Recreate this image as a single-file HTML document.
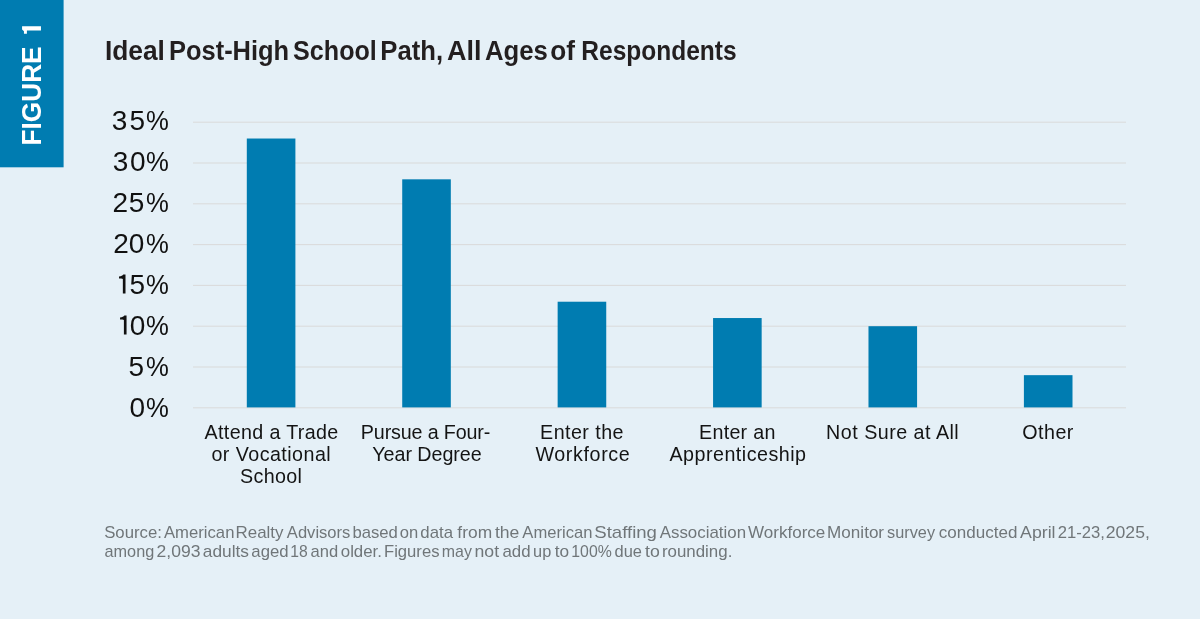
<!DOCTYPE html>
<html><head><meta charset="utf-8"><style>
html,body{margin:0;padding:0;background:#E5F0F7;}
body{width:1200px;height:619px;overflow:hidden;position:relative;font-family:"Liberation Sans",sans-serif;}
svg{position:absolute;left:0;top:0;will-change:transform;}
text{font-family:"Liberation Sans",sans-serif;}
.yl{font-size:28px;fill:#111;}
.xl{font-size:19.7px;fill:#141414;}
.t{font-size:27.5px;font-weight:700;fill:#231F20;}
.src{font-size:15.7px;fill:#707679;}
.fig{font-size:27.5px;font-weight:700;fill:#fff;}
</style></head><body>
<svg width="1200" height="619" viewBox="0 0 1200 619">
<rect x="0" y="0" width="1200" height="619" fill="#E5F0F7"/>
<rect x="0" y="0" width="63.6" height="167.3" fill="#007CB1"/>
<text class="fig" transform="translate(41.1,145.5) rotate(-90)" x="0" y="0" textLength="99.1" lengthAdjust="spacingAndGlyphs">FIGURE</text>
<path d="M22.07,26.36 H40.97 V30.43 H26.9 V33.77 H23.96 V31.2 L22.07,29.6 Z" fill="#fff"/>
<rect x="193" y="407.30" width="933" height="1" fill="#DADADA"/>
<rect x="193" y="366.50" width="933" height="1" fill="#DADADA"/>
<rect x="193" y="325.70" width="933" height="1" fill="#DADADA"/>
<rect x="193" y="284.90" width="933" height="1" fill="#DADADA"/>
<rect x="193" y="244.10" width="933" height="1" fill="#DADADA"/>
<rect x="193" y="203.30" width="933" height="1" fill="#DADADA"/>
<rect x="193" y="162.50" width="933" height="1" fill="#DADADA"/>
<rect x="193" y="121.70" width="933" height="1" fill="#DADADA"/>
<rect x="246.80" y="138.52" width="48.6" height="268.88" fill="#007CB1"/>
<rect x="402.22" y="179.32" width="48.6" height="228.08" fill="#007CB1"/>
<rect x="557.64" y="301.72" width="48.6" height="105.68" fill="#007CB1"/>
<rect x="713.06" y="318.04" width="48.6" height="89.36" fill="#007CB1"/>
<rect x="868.48" y="326.20" width="48.6" height="81.20" fill="#007CB1"/>
<rect x="1023.90" y="375.16" width="48.6" height="32.24" fill="#007CB1"/>
<text x="129.61" y="416.60" class="yl">0</text><text transform="translate(146.08,416.60) scale(0.917,1)" class="yl">%</text>
<text x="128.58" y="375.60" class="yl">5</text><text transform="translate(146.08,375.60) scale(0.917,1)" class="yl">%</text>
<path d="M126.55,334.60 V315.60 H124.35 C123.65,316.60 122.35,317.40 120.05,317.50 V319.50 C121.75,319.50 123.05,319.60 123.90,320.10 V334.60 Z" fill="#111"/>
<text x="129.66" y="334.60" class="yl">0</text><text transform="translate(146.08,334.60) scale(0.917,1)" class="yl">%</text>
<path d="M125.50,293.60 V274.60 H123.30 C122.60,275.60 121.30,276.40 119.00,276.50 V278.50 C120.70,278.50 122.00,278.60 122.85,279.10 V293.60 Z" fill="#111"/>
<text x="129.58" y="293.60" class="yl">5</text><text transform="translate(146.08,293.60) scale(0.917,1)" class="yl">%</text>
<text x="113.34" y="252.60" class="yl">2</text><text x="128.71" y="252.60" class="yl">0</text><text transform="translate(146.08,252.60) scale(0.917,1)" class="yl">%</text>
<text x="112.59" y="211.60" class="yl">2</text><text x="128.68" y="211.60" class="yl">5</text><text transform="translate(146.08,211.60) scale(0.917,1)" class="yl">%</text>
<text x="112.63" y="170.60" class="yl">3</text><text x="129.91" y="170.60" class="yl">0</text><text transform="translate(146.08,170.60) scale(0.917,1)" class="yl">%</text>
<text x="111.73" y="129.60" class="yl">3</text><text x="129.58" y="129.60" class="yl">5</text><text transform="translate(146.08,129.60) scale(0.917,1)" class="yl">%</text>
<text x="204.55" y="438.90" class="xl" textLength="133.69" lengthAdjust="spacing">Attend a Trade</text>
<text x="211.43" y="460.80" class="xl" textLength="119.27" lengthAdjust="spacing">or Vocational</text>
<text x="240.10" y="483.30" class="xl" textLength="61.84" lengthAdjust="spacing">School</text>
<text x="360.86" y="438.90" class="xl" textLength="129.45" lengthAdjust="spacing">Pursue a Four-</text>
<text x="372.35" y="460.80" class="xl" textLength="109.28" lengthAdjust="spacing">Year Degree</text>
<text x="540.07" y="438.90" class="xl" textLength="83.46" lengthAdjust="spacing">Enter the</text>
<text x="535.42" y="460.70" class="xl" textLength="94.36" lengthAdjust="spacing">Workforce</text>
<text x="699.04" y="438.90" class="xl" textLength="76.31" lengthAdjust="spacing">Enter an</text>
<text x="669.47" y="460.80" class="xl" textLength="136.46" lengthAdjust="spacing">Apprenticeship</text>
<text x="826.10" y="438.70" class="xl" textLength="132.62" lengthAdjust="spacing">Not Sure at All</text>
<text x="1022.16" y="438.90" class="xl" textLength="51.25" lengthAdjust="spacing">Other</text>
<text x="104.90" y="59.80" class="t" textLength="59.95" lengthAdjust="spacingAndGlyphs">Ideal</text>
<text x="168.99" y="59.80" class="t" textLength="120.19" lengthAdjust="spacingAndGlyphs">Post-High</text>
<text x="293.11" y="59.80" class="t" textLength="83.70" lengthAdjust="spacingAndGlyphs">School</text>
<text x="380.32" y="59.80" class="t" textLength="62.73" lengthAdjust="spacingAndGlyphs">Path,</text>
<text x="447.07" y="59.80" class="t" textLength="34.49" lengthAdjust="spacingAndGlyphs">All</text>
<text x="484.96" y="59.80" class="t" textLength="62.88" lengthAdjust="spacingAndGlyphs">Ages</text>
<text x="550.31" y="59.80" class="t" textLength="24.70" lengthAdjust="spacingAndGlyphs">of</text>
<text x="581.29" y="59.80" class="t" textLength="155.32" lengthAdjust="spacingAndGlyphs">Respondents</text>
<text x="104.20" y="538.00" class="src" textLength="57.73" lengthAdjust="spacingAndGlyphs">Source:</text>
<text x="164.00" y="538.00" class="src" textLength="70.41" lengthAdjust="spacingAndGlyphs">American</text>
<text x="235.52" y="538.00" class="src" textLength="47.99" lengthAdjust="spacingAndGlyphs">Realty</text>
<text x="286.87" y="538.00" class="src" textLength="63.48" lengthAdjust="spacingAndGlyphs">Advisors</text>
<text x="352.44" y="538.00" class="src" textLength="45.47" lengthAdjust="spacingAndGlyphs">based</text>
<text x="399.68" y="538.00" class="src" textLength="18.44" lengthAdjust="spacingAndGlyphs">on</text>
<text x="420.35" y="538.00" class="src" textLength="32.65" lengthAdjust="spacingAndGlyphs">data</text>
<text x="457.36" y="538.00" class="src" textLength="34.75" lengthAdjust="spacingAndGlyphs">from</text>
<text x="494.96" y="538.00" class="src" textLength="24.43" lengthAdjust="spacingAndGlyphs">the</text>
<text x="522.32" y="538.00" class="src" textLength="70.07" lengthAdjust="spacingAndGlyphs">American</text>
<text x="594.26" y="538.00" class="src" textLength="62.70" lengthAdjust="spacingAndGlyphs">Staffing</text>
<text x="659.72" y="538.00" class="src" textLength="86.35" lengthAdjust="spacingAndGlyphs">Association</text>
<text x="748.08" y="538.00" class="src" textLength="77.23" lengthAdjust="spacingAndGlyphs">Workforce</text>
<text x="827.14" y="538.00" class="src" textLength="56.94" lengthAdjust="spacingAndGlyphs">Monitor</text>
<text x="887.08" y="538.00" class="src" textLength="47.99" lengthAdjust="spacingAndGlyphs">survey</text>
<text x="938.77" y="538.00" class="src" textLength="78.62" lengthAdjust="spacingAndGlyphs">conducted</text>
<text x="1020.12" y="538.00" class="src" textLength="35.42" lengthAdjust="spacingAndGlyphs">April</text>
<text x="1057.67" y="538.00" class="src" textLength="47.18" lengthAdjust="spacingAndGlyphs">21-23,</text>
<text x="1105.72" y="538.00" class="src" textLength="44.13" lengthAdjust="spacingAndGlyphs">2025,</text>
<text x="104.52" y="556.50" class="src" textLength="49.76" lengthAdjust="spacingAndGlyphs">among</text>
<text x="156.51" y="556.50" class="src" textLength="43.90" lengthAdjust="spacingAndGlyphs">2,093</text>
<text x="202.82" y="556.50" class="src" textLength="46.19" lengthAdjust="spacingAndGlyphs">adults</text>
<text x="251.38" y="556.50" class="src" textLength="37.23" lengthAdjust="spacingAndGlyphs">aged</text>
<text x="290.36" y="556.50" class="src" textLength="17.48" lengthAdjust="spacingAndGlyphs">18</text>
<text x="310.55" y="556.50" class="src" textLength="27.62" lengthAdjust="spacingAndGlyphs">and</text>
<text x="340.79" y="556.50" class="src" textLength="41.17" lengthAdjust="spacingAndGlyphs">older.</text>
<text x="384.01" y="556.50" class="src" textLength="55.46" lengthAdjust="spacingAndGlyphs">Figures</text>
<text x="441.77" y="556.50" class="src" textLength="30.10" lengthAdjust="spacingAndGlyphs">may</text>
<text x="474.49" y="556.50" class="src" textLength="24.56" lengthAdjust="spacingAndGlyphs">not</text>
<text x="502.42" y="556.50" class="src" textLength="28.13" lengthAdjust="spacingAndGlyphs">add</text>
<text x="533.13" y="556.50" class="src" textLength="18.16" lengthAdjust="spacingAndGlyphs">up</text>
<text x="554.84" y="556.50" class="src" textLength="14.38" lengthAdjust="spacingAndGlyphs">to</text>
<text x="571.27" y="556.50" class="src" textLength="40.53" lengthAdjust="spacingAndGlyphs">100%</text>
<text x="614.54" y="556.50" class="src" textLength="27.42" lengthAdjust="spacingAndGlyphs">due</text>
<text x="645.09" y="556.50" class="src" textLength="14.74" lengthAdjust="spacingAndGlyphs">to</text>
<text x="661.90" y="556.50" class="src" textLength="70.48" lengthAdjust="spacingAndGlyphs">rounding.</text>

</svg>
</body></html>
